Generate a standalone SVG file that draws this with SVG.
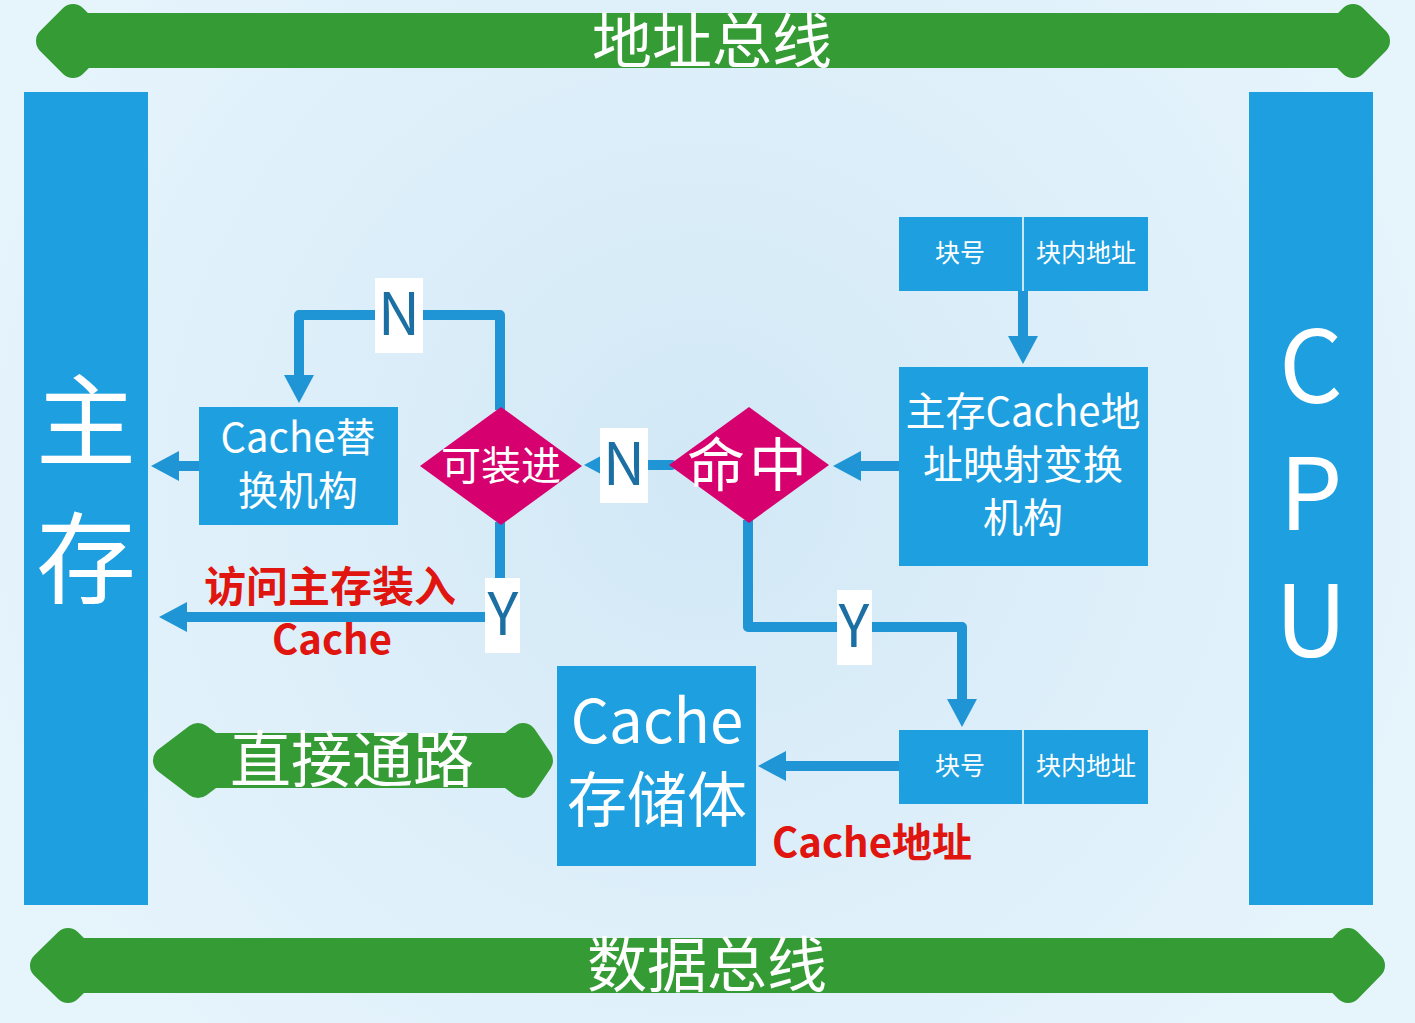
<svg xmlns="http://www.w3.org/2000/svg" width="1415" height="1023" viewBox="0 0 1415 1023">
  <defs>
    <radialGradient id="bg" cx="700" cy="480" r="760" gradientUnits="userSpaceOnUse">
      <stop offset="0" stop-color="#D2E8F6"/>
      <stop offset="1" stop-color="#E6F4FC"/>
    </radialGradient>
    <marker id="ah" markerUnits="userSpaceOnUse" viewBox="0 0 30 30" refX="1" refY="15" markerWidth="30" markerHeight="30" orient="auto">
      <path d="M0,0 L28,15 L0,30 z" fill="#1F95D5"/>
    </marker>
    <style>
      .box { fill: #1E9FE0; }
      .dia { fill: #D6006E; }
      .bus { fill: #359B35; stroke: #359B35; stroke-width: 28; stroke-linejoin: round; }
      .busr { fill: #359B35; }
      .t { font-family: "Noto Sans CJK SC", "Liberation Sans", sans-serif; fill: #FFFFFF; text-anchor: middle; }
      .red { font-family: "Noto Sans CJK SC", "Liberation Sans", sans-serif; fill: #E0150F; font-weight: bold; text-anchor: middle; }
      .lbl { font-family: "Noto Sans CJK SC", "Liberation Sans", sans-serif; fill: #1B6FA3; text-anchor: middle; font-size: 58px; }
      .lblbg { fill: #FFFFFF; }
      .conn { fill: none; stroke: #1F95D5; stroke-width: 10; stroke-linejoin: round; marker-end: url(#ah); }
      .div { stroke: #FFFFFF; stroke-width: 1.5; }
    </style>
  </defs>

  <rect x="0" y="0" width="1415" height="1023" fill="url(#bg)"/>

  <!-- address bus -->
  <g id="address-bus">
    <rect class="busr" x="80" y="13" width="1260" height="55"/>
    <polygon class="bus" points="50,41 73,18 96,41 73,64"/>
    <polygon class="bus" points="1376,41 1353,18 1330,41 1353,64"/>
    <text class="t" x="712" y="63" font-size="60">地址总线</text>
  </g>

  <!-- data bus -->
  <g id="data-bus">
    <rect class="busr" x="75" y="938" width="1260" height="55"/>
    <polygon class="bus" points="44,965.5 68,942 92,965.5 68,989"/>
    <polygon class="bus" points="1371,965.5 1348,942 1325,965.5 1348,989"/>
    <text class="t" x="707" y="987" font-size="60">数据总线</text>
  </g>

  <!-- main memory -->
  <g id="main-memory">
    <rect class="box" x="24" y="92" width="124" height="813"/>
    <text class="t" x="86" y="458" font-size="100">主</text>
    <text class="t" x="86" y="596" font-size="100">存</text>
  </g>

  <!-- CPU -->
  <g id="cpu">
    <rect class="box" x="1249" y="92" width="124" height="813"/>
    <text class="t" x="1311" y="403" font-size="100">C</text>
    <text class="t" x="1311" y="530" font-size="100">P</text>
    <text class="t" x="1311" y="657" font-size="100">U</text>
  </g>

  <!-- connectors -->
  <g id="connectors">
    <path class="conn" d="M500,410 V315 H299 V376"/>
    <path class="conn" d="M199,466 H178"/>
    <path class="conn" d="M500,522 V617 H186"/>
    <path class="conn" d="M672,465 H611" stroke-linecap="round"/>
    <path class="conn" d="M899,466 H860"/>
    <path class="conn" d="M748,520 V627 H962 V700"/>
    <path class="conn" d="M899,766 H785"/>
    <path class="conn" d="M1023,291 V337"/>

    <rect class="lblbg" x="375" y="278" width="48" height="75"/>
    <text class="lbl" x="399" y="335">N</text>
    <rect class="lblbg" x="600" y="428" width="48" height="75"/>
    <text class="lbl" x="624" y="485">N</text>
    <rect class="lblbg" x="485" y="578" width="35" height="75"/>
    <text class="lbl" x="503" y="635">Y</text>
    <rect class="lblbg" x="837" y="590" width="35" height="75"/>
    <text class="lbl" x="854" y="647">Y</text>
  </g>

  <!-- address block top -->
  <g id="addr-top">
    <rect class="box" x="899" y="217" width="249" height="74"/>
    <line class="div" x1="1023" y1="217" x2="1023" y2="291"/>
    <text class="t" x="960" y="262" font-size="25">块号</text>
    <text class="t" x="1086" y="262" font-size="25">块内地址</text>
  </g>

  <!-- mapping unit -->
  <g id="mapping">
    <rect class="box" x="899" y="367" width="249" height="199"/>
    <text class="t" x="1023" y="426" font-size="40">主存Cache地</text>
    <text class="t" x="1023" y="479" font-size="40">址映射变换</text>
    <text class="t" x="1023" y="532" font-size="40">机构</text>
  </g>

  <!-- hit diamond -->
  <g id="hit">
    <polygon class="dia" points="669,465 749,407 829,465 749,523"/>
    <text class="t" x="749" y="486" font-size="58" letter-spacing="4">命中</text>
  </g>

  <!-- can-load diamond -->
  <g id="can-load">
    <polygon class="dia" points="420,466 501,407 582,466 501,525"/>
    <text class="t" x="501" y="480" font-size="40">可装进</text>
  </g>

  <!-- replacement unit -->
  <g id="replace">
    <rect class="box" x="199" y="407" width="199" height="118"/>
    <text class="t" x="298" y="452" font-size="40">Cache替</text>
    <text class="t" x="298" y="505" font-size="40">换机构</text>
  </g>

  <!-- load label -->
  <g id="load-label">
    <text class="red" x="330" y="602" font-size="42">访问主存装入</text>
    <text class="red" x="332" y="654" font-size="40">Cache</text>
  </g>

  <!-- direct path -->
  <g id="direct-path">
    <rect class="busr" x="195" y="733" width="330" height="55"/>
    <polygon class="bus" points="167,760.5 198,737 229,760.5 198,784"/>
    <polygon class="bus" points="539,760.5 523,737 492,760.5 523,784"/>
    <text class="t" x="352" y="782" font-size="61">直接通路</text>
  </g>

  <!-- cache storage -->
  <g id="cache-store">
    <rect class="box" x="557" y="666" width="199" height="200"/>
    <text class="t" x="657" y="743" font-size="60">Cache</text>
    <text class="t" x="657" y="822" font-size="60">存储体</text>
  </g>

  <!-- address block bottom -->
  <g id="addr-bottom">
    <rect class="box" x="899" y="730" width="249" height="74"/>
    <line class="div" x1="1023" y1="730" x2="1023" y2="804"/>
    <text class="t" x="960" y="775" font-size="25">块号</text>
    <text class="t" x="1086" y="775" font-size="25">块内地址</text>
  </g>

  <!-- cache address label -->
  <g id="cache-addr-label">
    <text class="red" x="872" y="857" font-size="40">Cache地址</text>
  </g>
</svg>
